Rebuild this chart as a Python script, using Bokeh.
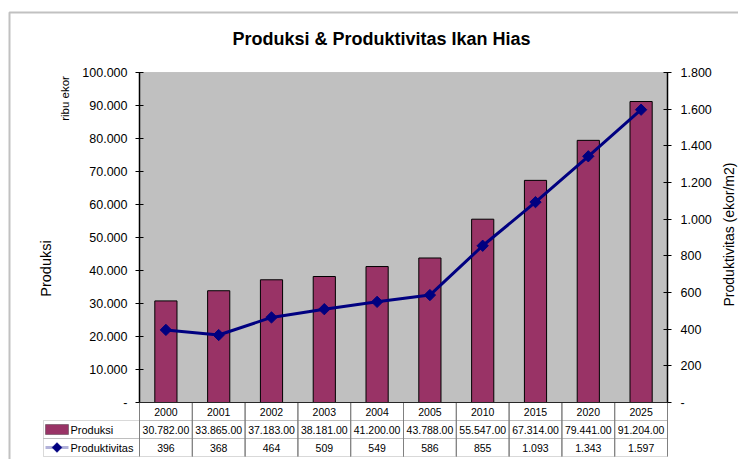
from bokeh.plotting import figure
from bokeh.models import (FactorRange, Range1d, LinearAxis, FixedTicker, Label,
                          BoxAnnotation, PolyAnnotation, ColumnDataSource)
from bokeh.transform import dodge
from bokeh.core.properties import value
from bokeh.embed import file_html
from bokeh.resources import INLINE

# ---------------- data ----------------
years = ["2000", "2001", "2002", "2003", "2004", "2005", "2010", "2015", "2020", "2025"]
produksi = [30782, 33865, 37183, 38181, 41200, 43788, 55547, 67314, 79441, 91204]
produktivitas = [396, 368, 464, 509, 549, 586, 855, 1093, 1343, 1597]
produksi_text = ["30.782.00", "33.865.00", "37.183.00", "38.181.00", "41.200.00",
                 "43.788.00", "55.547.00", "67.314.00", "79.441.00", "91.204.00"]
produktivitas_text = ["396", "368", "464", "509", "549", "586", "855", "1.093", "1.343", "1.597"]
left_ticks = [0, 10000, 20000, 30000, 40000, 50000, 60000, 70000, 80000, 90000, 100000]
left_tick_labels = ["-", "10.000", "20.000", "30.000", "40.000", "50.000",
                    "60.000", "70.000", "80.000", "90.000", "100.000"]
right_ticks = [0, 200, 400, 600, 800, 1000, 1200, 1400, 1600, 1800]
right_tick_labels = ["-", "200", "400", "600", "800", "1.000", "1.200", "1.400", "1.600", "1.800"]

title_text = "Produksi & Produktivitas Ikan Hias"
left_label = "Produksi"
unit_label = "ribu ekor"
right_label = "Produktivitas (ekor/m2)"
series_names = ["Produksi", "Produktivitas"]

# ---------------- layout constants (page px) ----------------
FONT = "Liberation Sans"
BAR_COLOR = "#993366"
LINE_COLOR = "#000080"
GRID_GRAY = "#808080"
W, H = 738, 459
PLOT_L, PLOT_R, PLOT_T, PLOT_B = 139, 667, 72, 402
ROW_PX = 18
Y_MAX = 100000
R_MAX = 1800

n = len(years)
UNIT = (PLOT_R - PLOT_L) / n                 # px per category
pad_r = (W - PLOT_R) / UNIT                  # range padding (absolute)
grp_pad = PLOT_L / UNIT - 1 - pad_r          # gap between spacer group and data
x_lo = 1 + grp_pad                           # synthetic x of plot left edge
x_hi = x_lo + n
py = (PLOT_B - PLOT_T) / Y_MAX               # px per y unit
row_h = ROW_PX / py


def sx(cx):
    return -pad_r + cx / UNIT


def sy(cy):
    return (PLOT_B - cy) / py


xf = [("Tahun", y) for y in years]
src = ColumnDataSource(dict(x=xf, year=years, produksi=produksi, produktivitas=produktivitas,
                            ptxt=produksi_text, rtxt=produktivitas_text))

x_range = FactorRange(factors=[("", "")] + xf, group_padding=grp_pad, factor_padding=0,
                      range_padding=pad_r, range_padding_units="absolute")

p = figure(width=W, height=H, x_range=x_range, y_range=Range1d(sy(H), sy(0)),
           title=None, output_backend="svg", toolbar_location=None,
           x_axis_location=None, y_axis_location=None,
           min_border_left=0, min_border_right=0, min_border_top=0, min_border_bottom=0,
           outline_line_color=None, background_fill_color="white",
           border_fill_color="white")
p.grid.visible = False
p.extra_y_ranges = {"prod": Range1d(sy(H) * R_MAX / Y_MAX, sy(0) * R_MAX / Y_MAX)}

# outer chart border (right / bottom edges lie beyond the page)
p.add_layout(BoxAnnotation(left=sx(9), right=sx(W + 30), top=sy(12), bottom=sy(H + 30),
                           fill_alpha=0, line_color="#333333", line_width=2,
                           level="underlay"))

# gray plot area
p.add_layout(BoxAnnotation(left=x_lo, right=x_hi, bottom=0, top=Y_MAX,
                           fill_color="#C0C0C0", fill_alpha=1,
                           line_color=GRID_GRAY, line_width=1, level="underlay"))

# bars
p.vbar(x="x", top="produksi", bottom=0, width=0.42, source=src,
       fill_color=BAR_COLOR, line_color="black", line_width=1)

# line + diamonds
p.line(x="x", y="produktivitas", source=src, y_range_name="prod",
       line_color=LINE_COLOR, line_width=3)
p.scatter(x="x", y="produktivitas", source=src, y_range_name="prod",
          marker="square", angle=45, angle_units="deg", size=8,
          fill_color=LINE_COLOR, line_color=LINE_COLOR)

# data table grid
p.add_layout(BoxAnnotation(left=x_lo, right=x_hi, top=0, bottom=-row_h,
                           fill_alpha=0, line_color=GRID_GRAY, line_width=1))
for k in (1, 2):
    p.add_layout(BoxAnnotation(left=sx(43), right=x_hi, top=-k * row_h,
                               bottom=-(k + 1) * row_h,
                               fill_alpha=0, line_color=GRID_GRAY, line_width=1))
for off in (-0.5, 0.5):
    p.segment(x0=dodge("x", off, range=x_range), y0=0,
              x1=dodge("x", off, range=x_range), y1=-3 * row_h,
              source=src, line_color=GRID_GRAY, line_width=1)
p.segment(x0=[x_lo], y0=[0], x1=[x_hi], y1=[0], line_color="black", line_width=1)

# table text
txt_kw = dict(source=src, text_align="center", text_baseline="middle",
              text_font=value(FONT), text_font_size="10.5px", text_color="black")
p.text(x="x", y=-0.5 * row_h, text="year", **txt_kw)
p.text(x="x", y=-1.5 * row_h, text="ptxt", **txt_kw)
p.text(x="x", y=-2.5 * row_h, text="rtxt", **txt_kw)

# axes (drawn at the plot-area edges)
axis_kw = dict(axis_line_color="black", axis_line_width=1.5,
               major_tick_line_color="black", major_tick_in=4, major_tick_out=4,
               minor_tick_line_color=None,
               major_label_text_font=FONT, major_label_text_font_size="12.5px",
               major_label_text_color="black")
left_axis = LinearAxis(ticker=FixedTicker(ticks=left_ticks), fixed_location=x_lo,
                       major_label_overrides=dict(zip(left_ticks, left_tick_labels)),
                       bounds=(0, Y_MAX), major_label_standoff=8, **axis_kw)
p.add_layout(left_axis, "left")
right_axis = LinearAxis(y_range_name="prod", ticker=FixedTicker(ticks=right_ticks),
                        fixed_location=x_hi,
                        major_label_overrides=dict(zip(right_ticks, right_tick_labels)),
                        bounds=(0, R_MAX), major_label_standoff=9, **axis_kw)
p.add_layout(right_axis, "right")

# texts
lbl_kw = dict(text_font=FONT, text_color="black", text_baseline="middle")
p.add_layout(Label(x=sx(381), y=sy(38), text=title_text, text_align="center",
                   text_font_size="18px", text_font_style="bold", **lbl_kw))
p.add_layout(Label(x=sx(45), y=sy(268), text=left_label, angle=90, angle_units="deg",
                   text_align="center", text_font_size="14.5px", **lbl_kw))
p.add_layout(Label(x=sx(64), y=sy(98), text=unit_label, angle=90, angle_units="deg",
                   text_align="center", text_font_size="11.5px", **lbl_kw))
p.add_layout(Label(x=sx(728), y=sy(234), text=right_label, angle=90, angle_units="deg",
                   text_align="center", text_font_size="14px", **lbl_kw))

# legend keys in the table
p.add_layout(BoxAnnotation(left=sx(45), right=sx(68), top=sy(424), bottom=sy(434),
                           fill_color=BAR_COLOR, fill_alpha=1, line_color="black",
                           line_width=1))
p.add_layout(Label(x=sx(70), y=-1.5 * row_h, text=series_names[0], text_align="left",
                   text_font_size="11px", **lbl_kw))
yl = -2.5 * row_h
p.add_layout(PolyAnnotation(xs=[sx(45), sx(68)], ys=[yl, yl], line_color=LINE_COLOR,
                            line_width=3, fill_alpha=0))
cx, dx, dy = sx(56.5), 5 / UNIT, 5 / py
p.add_layout(PolyAnnotation(xs=[cx - dx, cx, cx + dx, cx], ys=[yl, yl + dy, yl, yl - dy],
                            line_color=LINE_COLOR, line_width=1, fill_color=LINE_COLOR,
                            fill_alpha=1))
p.add_layout(Label(x=sx(70), y=yl, text=series_names[1], text_align="left",
                   text_font_size="11px", **lbl_kw))

open("out.html", "w").write(file_html(p, INLINE))
